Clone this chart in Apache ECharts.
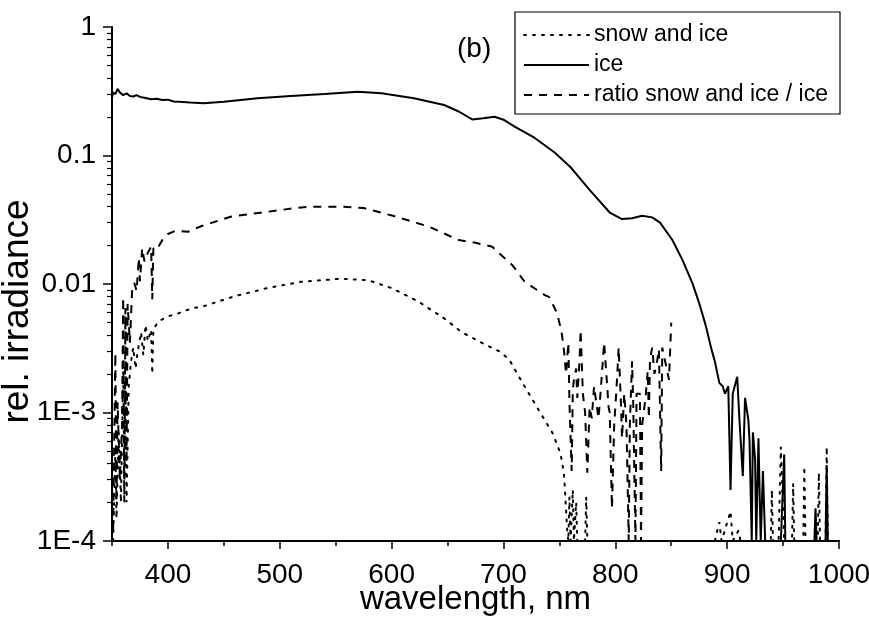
<!DOCTYPE html>
<html>
<head>
<meta charset="utf-8">
<script src="https://cdn.jsdelivr.net/npm/echarts@6/dist/echarts.min.js"></script>
<style>
  html, body { margin: 0; padding: 0; background: #fff; }
  #chart { width: 869px; height: 620px; }
</style>
</head>
<body>
<div id="chart"></div>
<script>
// wavelength (nm) / relative irradiance
const iceWl = [350, 351, 353, 355, 357, 360, 363, 366, 369, 372, 375, 380, 385, 390, 395, 400, 405, 410, 420, 432, 450, 480, 510, 540, 570, 591, 620, 647, 660, 672, 682, 692, 700, 710, 728, 746, 760, 777, 795, 806, 815, 824, 833, 840, 851, 860, 869, 875, 881, 886, 889, 893, 896, 898, 901, 903, 905, 909, 911, 914, 916, 919, 920, 922, 923, 925, 926, 928, 930, 932, 934, 948, 951, 952, 978, 979, 980, 988, 989, 990, 1000];
const iceVal = [0.28, 0.31, 0.30, 0.33, 0.31, 0.295, 0.305, 0.29, 0.288, 0.295, 0.286, 0.28, 0.274, 0.276, 0.27, 0.272, 0.263, 0.262, 0.258, 0.255, 0.262, 0.279, 0.29, 0.301, 0.314, 0.305, 0.279, 0.247, 0.22, 0.191, 0.195, 0.2, 0.19, 0.168, 0.137, 0.105, 0.081, 0.054, 0.036, 0.032, 0.0325, 0.034, 0.033, 0.03, 0.022, 0.0154, 0.0101, 0.0071, 0.0047, 0.0031, 0.0025, 0.0017, 0.0016, 0.0014, 0.0016, 0.00025, 0.0014, 0.0019, 0.00087, 0.00032, 0.0013, 0.00087, 0.0006, 0.0001, 0.0007, 0.00043, 0.0001, 0.00063, 0.0001, 0.00035, 0.0001, 0.0001, 0.00047, 0.0001, 0.0001, 0.00018, 0.0001, 0.0001, 0.00039, 0.0001, 0.0001];

const snowWl = [351, 353, 354, 356, 358, 360, 361, 362, 363, 365, 367, 369, 371, 373, 376, 378, 380, 382, 385, 386, 387, 390, 393, 400, 409, 420, 434, 459, 489, 519, 555, 579, 600, 624, 647, 663, 683, 696, 705, 717, 735, 744, 751, 754, 755, 757, 758, 759, 760, 762, 763, 765, 766, 773, 774, 775, 889, 893, 895, 903, 905, 910, 912, 939, 940, 941, 946, 948, 951, 958, 959, 960, 968, 969, 970, 981, 982, 983, 988, 989, 990, 1000];
const snowVal = [0.0001, 0.0005, 0.00015, 0.0007, 0.0002, 0.0021, 0.0003, 0.0018, 0.0002, 0.0016, 0.0025, 0.0032, 0.0022, 0.003, 0.0042, 0.0028, 0.0048, 0.0036, 0.0044, 0.002, 0.0044, 0.0049, 0.0052, 0.0056, 0.0059, 0.0064, 0.0068, 0.008, 0.0093, 0.0104, 0.011, 0.0107, 0.0093, 0.0073, 0.0054, 0.0042, 0.0034, 0.003, 0.0026, 0.0017, 0.00093, 0.00069, 0.00048, 0.00034, 0.00025, 0.00012, 0.0001, 0.00022, 0.0001, 0.00025, 0.0001, 0.0002, 0.0001, 0.0001, 0.00022, 0.0001, 0.0001, 0.00014, 0.0001, 0.00017, 0.0001, 0.00012, 0.0001, 0.0001, 0.00025, 0.0001, 0.0001, 0.00054, 0.0001, 0.0001, 0.00028, 0.0001, 0.0001, 0.00038, 0.0001, 0.0001, 0.00034, 0.0001, 0.0001, 0.00054, 0.0001, 0.0001];

const ratioWl = [351, 353, 354, 355, 357, 359, 360, 361, 362, 363, 364, 366, 368, 370, 372, 374, 375, 377, 379, 382, 385, 386, 387, 390, 395, 400, 407, 418, 429, 456, 483, 513, 528, 557, 575, 602, 633, 660, 674, 690, 696, 708, 719, 737, 741, 748, 752, 754, 756, 758, 759, 761, 762, 763, 765, 766, 768, 769, 771, 773, 775, 777, 779, 781, 783, 785, 787, 790, 792, 794, 795, 797, 799, 801, 803, 805, 806, 808, 810, 812, 813, 815, 816, 818, 819, 822, 823, 824, 827, 829, 830, 831, 833, 835, 837, 839, 841, 842, 848, 850];
const ratioVal = [0.00012, 0.0029, 0.0002, 0.0012, 0.0003, 0.0008, 0.0079, 0.0002, 0.0065, 0.0004, 0.007, 0.0035, 0.009, 0.0102, 0.0088, 0.016, 0.0105, 0.019, 0.015, 0.0175, 0.0195, 0.0076, 0.019, 0.0185, 0.022, 0.0245, 0.026, 0.0255, 0.028, 0.0334, 0.0359, 0.0389, 0.04, 0.04, 0.039, 0.0338, 0.028, 0.022, 0.021, 0.0195, 0.0174, 0.014, 0.0104, 0.0082, 0.0079, 0.0059, 0.0042, 0.0031, 0.002, 0.0035, 0.0012, 0.00035, 0.0015, 0.0018, 0.0022, 0.0013, 0.0025, 0.0044, 0.0014, 0.001, 0.00034, 0.0011, 0.0009, 0.0016, 0.0012, 0.0009, 0.0015, 0.0035, 0.002, 0.0011, 0.001, 0.00018, 0.0008, 0.0015, 0.0032, 0.0012, 0.00063, 0.0014, 0.0008, 0.0001, 0.0008, 0.0025, 0.0012, 0.0001, 0.0014, 0.0014, 0.0001, 0.0008, 0.0013, 0.0021, 0.0009, 0.0026, 0.0032, 0.002, 0.0024, 0.0031, 0.00035, 0.0032, 0.0018, 0.005];

const xLabels = [400, 500, 600, 700, 800, 900, 1000];
const xMinorTicks = [350, 450, 550, 650, 750, 850, 950];
const yMajor = [0.0001, 0.001, 0.01, 0.1, 1];
const yLabelText = ['1E-4', '1E-3', '0.01', '0.1', '1'];
const yMinor = [];
for (let e = -4; e < 0; e++) {
    for (let m = 2; m <= 9; m++) yMinor.push(m * Math.pow(10, e));
}

const zip = (xs, ys) => xs.map((x, i) => [x, ys[i]]);

const font = 'Liberation Sans, Arial, sans-serif';
const chart = echarts.init(document.getElementById('chart'));

chart.setOption({
    backgroundColor: '#fff',
    animation: false,
    title: {
        text: '(b)',
        left: 452, top: 30,
        textStyle: { fontFamily: font, fontSize: 28, fontWeight: 'normal', color: '#000' }
    },
    legend: {
        orient: 'vertical',
        left: 518, top: 18,
        itemWidth: 65, itemHeight: 14, itemGap: 6,
        itemStyle: { opacity: 0 },
        textStyle: { fontFamily: font, fontSize: 23, lineHeight: 24, color: '#000' },
        data: ['snow and ice', 'ice', 'ratio snow and ice / ice']
    },
    graphic: [{
        type: 'rect',
        shape: { x: 515, y: 12, width: 325, height: 102 },
        style: { fill: 'none', stroke: '#000', lineWidth: 1.2 },
        z: 100
    }],
    grid: { left: 112, right: 30, top: 27, bottom: 79, containLabel: false, outerBoundsMode: 'none' },
    xAxis: [{
        type: 'value', min: 350, max: 1000,
        name: 'wavelength, nm', nameLocation: 'middle', nameGap: 42, nameMoveOverlap: false,
        nameTextStyle: { fontFamily: font, fontSize: 33, color: '#000' },
        axisLine: { lineStyle: { color: '#000', width: 2 } },
        axisTick: { customValues: xLabels, length: 8, lineStyle: { color: '#000', width: 1.5 } },
        axisLabel: {
            customValues: xLabels, margin: 20, fontFamily: font, fontSize: 28, color: '#000',
            formatter: v => String(v)
        },
        splitLine: { show: false }
    }, {
        type: 'value', min: 350, max: 1000, position: 'bottom',
        axisLine: { show: false },
        axisTick: { customValues: xMinorTicks, length: 5, lineStyle: { color: '#000', width: 1.5 } },
        axisLabel: { show: false },
        splitLine: { show: false }
    }],
    yAxis: [{
        type: 'log', logBase: 10, min: 0.0001, max: 1,
        name: 'rel. irradiance', nameLocation: 'middle', nameGap: 76, nameRotate: 90, nameMoveOverlap: false,
        nameTextStyle: { fontFamily: font, fontSize: 37, color: '#000', padding: [0, 55, 0, 0] },
        axisLine: { show: true, lineStyle: { color: '#000', width: 2 } },
        axisTick: { customValues: yMajor, length: 9, lineStyle: { color: '#000', width: 1.5 } },
        axisLabel: {
            customValues: yMajor, margin: 16, fontFamily: font, fontSize: 28, color: '#000',
            formatter: v => yLabelText[Math.round(Math.log10(v)) + 4]
        },
        splitLine: { show: false }
    }, {
        type: 'log', logBase: 10, min: 0.0001, max: 1, position: 'left',
        axisLine: { show: false },
        axisTick: { customValues: yMinor, length: 5, lineStyle: { color: '#000', width: 1.2 } },
        axisLabel: { show: false },
        splitLine: { show: false }
    }],
    series: [{
        name: 'snow and ice', type: 'line', symbol: 'none', showSymbol: false,
        data: zip(snowWl, snowVal),
        lineStyle: { color: '#000', width: 2, type: [2, 7], cap: 'round' },
        itemStyle: { color: '#000' }
    }, {
        name: 'ice', type: 'line', symbol: 'none', showSymbol: false,
        data: zip(iceWl, iceVal),
        lineStyle: { color: '#000', width: 2 },
        itemStyle: { color: '#000' }
    }, {
        name: 'ratio snow and ice / ice', type: 'line', symbol: 'none', showSymbol: false,
        data: zip(ratioWl, ratioVal),
        lineStyle: { color: '#000', width: 2, type: [8, 7] },
        itemStyle: { color: '#000' }
    }]
});
</script>
</body>
</html>
